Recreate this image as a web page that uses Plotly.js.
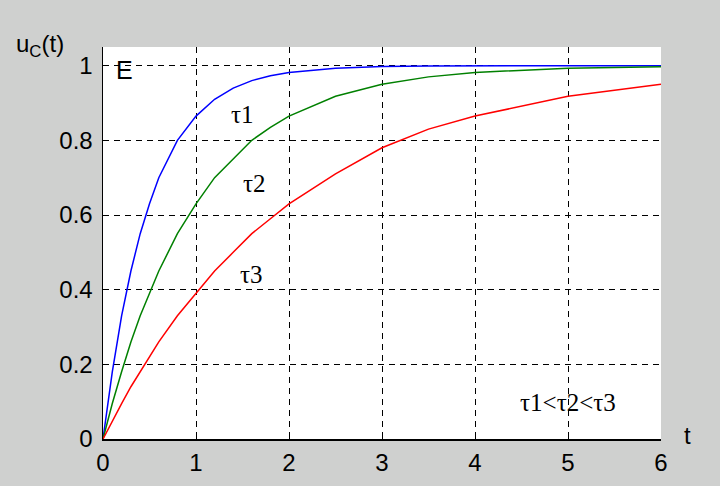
<!DOCTYPE html>
<html>
<head>
<meta charset="utf-8">
<script src="https://cdn.plot.ly/plotly-3.0.1.min.js"></script>
<style>html,body{margin:0;padding:0;background:#cfd0cf;}#chart{width:720px;height:486px;}</style>
</head>
<body>
<div id="chart"></div>
<script>
// time axis samples
const t = [0, 0.1, 0.2, 0.3, 0.4, 0.5, 0.6, 0.8, 1.0, 1.2, 1.4, 1.6, 1.8, 2.0, 2.5, 3.0, 3.5, 4.0, 5.0, 6.0];
// tau1 (fastest, blue)
const uTau1 = [0, 0.18, 0.33, 0.45, 0.55, 0.63, 0.70, 0.80, 0.865, 0.91, 0.94, 0.96, 0.973, 0.982, 0.993, 0.998, 0.999, 1.0, 1.0, 1.0];
// tau2 (green)
const uTau2 = [0, 0.095, 0.18, 0.26, 0.33, 0.39, 0.45, 0.55, 0.63, 0.70, 0.75, 0.80, 0.835, 0.865, 0.918, 0.95, 0.97, 0.982, 0.993, 0.997];
// tau3 (slowest, red)
const uTau3 = [0, 0.049, 0.095, 0.14, 0.18, 0.22, 0.26, 0.33, 0.39, 0.45, 0.50, 0.55, 0.59, 0.63, 0.71, 0.78, 0.83, 0.865, 0.918, 0.95];

const xTicks = [0, 1, 2, 3, 4, 5, 6];
const yTicks = [0, 0.2, 0.4, 0.6, 0.8, 1];
const yTickLabels = ['0', '0.2', '0.4', '0.6', '0.8', '1'];

const curveLabels = ['τ1', 'τ2', 'τ3'];
const curveLabelX = [1.495, 1.624, 1.60];
const curveLabelY = [0.869, 0.684, 0.44];

const traces = [
  {x: t, y: uTau1, mode: 'lines', line: {color: '#0000ff', width: 1.5}},
  {x: t, y: uTau2, mode: 'lines', line: {color: '#008000', width: 1.5}},
  {x: t, y: uTau3, mode: 'lines', line: {color: '#ff0000', width: 1.5}}
];

const tickFont = {family: 'Liberation Sans, Arial, sans-serif', size: 24, color: '#000'};
const serif = {family: 'Liberation Serif, Times New Roman, serif', size: 25, color: '#000'};

const annotations = curveLabels.map((s, i) => ({
  x: curveLabelX[i], y: curveLabelY[i], xref: 'x', yref: 'y', text: s,
  xanchor: 'center', yanchor: 'middle', showarrow: false, font: serif
}));
annotations.push({x: 0.226, y: 0.989, xref: 'x', yref: 'y', text: 'E', showarrow: false,
  xanchor: 'center', yanchor: 'middle',
  font: {family: 'Liberation Sans, Arial, sans-serif', size: 25, color: '#000'}});
annotations.push({x: 5.0, y: 0.0965, xref: 'x', yref: 'y', text: 'τ1<τ2<τ3', showarrow: false,
  xanchor: 'center', yanchor: 'middle', font: serif});
annotations.push({x: 1.048, y: 0.008, xref: 'paper', yref: 'paper', text: 't', showarrow: false,
  xanchor: 'center', yanchor: 'middle', font: tickFont});
annotations.push({x: -0.113, y: 1.005, xref: 'paper', yref: 'paper', text: 'u<sub>C</sub>(t)', showarrow: false,
  xanchor: 'center', yanchor: 'middle', font: tickFont});

const layout = {
  width: 720, height: 486,
  margin: {l: 103, r: 59, t: 47, b: 47, pad: 0},
  paper_bgcolor: '#cfd0cf',
  plot_bgcolor: '#ffffff',
  showlegend: false,
  xaxis: {
    range: [0, 6], tickvals: xTicks, ticktext: xTicks.map(String),
    ticks: 'inside', ticklen: 6, tickcolor: '#000', tickwidth: 1,
    showline: true, linecolor: '#000', linewidth: 1.5, mirror: false,
    showgrid: true, gridcolor: '#000', gridwidth: 1, griddash: '6px,5px',
    zeroline: false, tickfont: tickFont, fixedrange: true, ticklabelstandoff: 2
  },
  yaxis: {
    range: [0, 1.05], tickvals: yTicks, ticktext: yTickLabels,
    ticks: 'inside', ticklen: 6, tickcolor: '#000', tickwidth: 1,
    showline: true, linecolor: '#000', linewidth: 1.5, mirror: false,
    showgrid: true, gridcolor: '#000', gridwidth: 1, griddash: '6px,5px',
    zeroline: false, tickfont: tickFont, fixedrange: true, ticklabelstandoff: 4
  },
  annotations: annotations
};

Plotly.newPlot('chart', traces, layout, {staticPlot: true});
</script>
</body>
</html>
